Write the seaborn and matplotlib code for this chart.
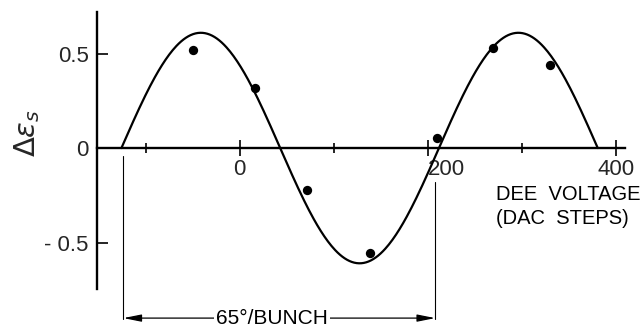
import numpy as np
import pandas as pd
import matplotlib
matplotlib.use("Agg")
import matplotlib.pyplot as plt
import seaborn as sns

# measured points
dac_steps = [-50, 16, 72, 139, 210, 270, 330]
delta_eps = [0.52, 0.32, -0.22, -0.555, 0.055, 0.53, 0.44]

# fitted sine curve parameters
fit_amplitude = 0.61
fit_period = 338.0
fit_zero = -126.0
fit_range = [-126, 381]

x_ticks_major = [0, 200, 400]
x_tick_labels = ["0", "200", "400"]
x_ticks_minor = [-100, 100, 300]
y_ticks = [-0.5, 0, 0.5]
y_tick_labels = ["- 0.5", "0", "0.5"]

bunch_marks = [-124, 208]

sns.set_theme(style="white")
plt.rcParams["font.family"] = ["Liberation Sans", "DejaVu Sans"]
plt.rcParams["mathtext.fontset"] = "dejavusans"

fig = plt.figure(figsize=(6.41, 3.30), dpi=100)
ax = fig.add_axes([97 / 641, 1 - 289 / 330, (625 - 97) / 641, (289 - 12) / 330])

xc = np.linspace(fit_range[0], fit_range[1], 400)
curve = pd.DataFrame({"x": xc,
                      "y": fit_amplitude * np.sin(2 * np.pi * (xc - fit_zero) / fit_period)})
sns.lineplot(data=curve, x="x", y="y", ax=ax, color="black", linewidth=1.6, clip_on=False)

pts = pd.DataFrame({"x": dac_steps, "y": delta_eps})
sns.scatterplot(data=pts, x="x", y="y", ax=ax, color="black", s=45, edgecolor="black",
                linewidth=0, zorder=5, clip_on=False)

ax.set_xlim(-152, 410)
ax.set_ylim(-0.746, 0.72)

for s in ["top", "right"]:
    ax.spines[s].set_visible(False)
ax.spines["bottom"].set_position(("data", 0))
for s in ["left", "bottom"]:
    ax.spines[s].set_color("black")
    ax.spines[s].set_linewidth(1.7)

ax.set_xticks(x_ticks_major)
ax.set_xticklabels(x_tick_labels, fontsize=16)
ax.set_xticks(x_ticks_minor, minor=True)
ax.tick_params(axis="x", which="major", direction="inout", length=12, width=1.2,
               color="black", pad=2, bottom=True)
ax.tick_params(axis="x", which="minor", direction="inout", length=7, width=1.2,
               color="black", bottom=True)
for lab in ax.get_xticklabels():
    if lab.get_text() == "200":
        lab.set_horizontalalignment("left")

ax.set_yticks(y_ticks)
ax.set_yticklabels(y_tick_labels, fontsize=16)
ax.tick_params(axis="y", direction="in", length=8, width=1.2, color="black", pad=6, left=True)

ax.set_xlabel("")
ax.set_ylabel(r"$\Delta\epsilon_s$", fontsize=21)
ax.yaxis.set_label_coords(-0.105, 0.563)

ax.text(0.756, 0.375, "DEE  VOLTAGE\n(DAC  STEPS)", transform=ax.transAxes,
        fontsize=14.5, ha="left", va="top", linespacing=1.3, color="black")

# 65 deg / bunch bracket
ax.plot([bunch_marks[0], bunch_marks[0]], [-0.04, -0.905], color="black", lw=0.8, clip_on=False)
ax.plot([bunch_marks[1], bunch_marks[1]], [-0.18, -0.905], color="black", lw=0.8, clip_on=False)
ax.annotate("", xy=(bunch_marks[0], -0.9), xytext=(bunch_marks[1], -0.9),
            arrowprops=dict(arrowstyle="<|-|>,head_length=0.9,head_width=0.18",
                            color="black", lw=0.9, shrinkA=0, shrinkB=0),
            annotation_clip=False)
ax.text(sum(bunch_marks) / 2 - 8, -0.9, "65°/BUNCH", fontsize=15, ha="center", va="center",
        color="black", bbox=dict(facecolor="white", edgecolor="none", pad=1.5), clip_on=False)

fig.savefig("out.png", dpi=100)
